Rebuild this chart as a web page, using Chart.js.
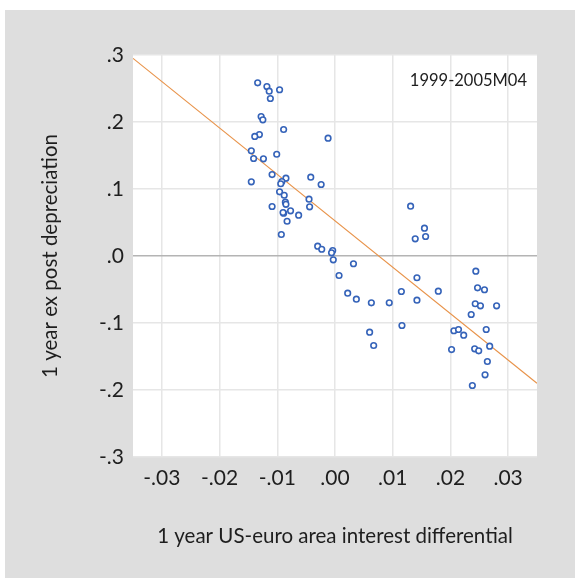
<!DOCTYPE html>
<html lang="en">
<head>
<meta charset="UTF-8">
<title>1 year ex post depreciation vs interest differential</title>
<style>
  body { margin: 0; background: #fff; }
  #wrap { position: absolute; left: 5px; top: 10px; width: 570px; height: 568px; background: #dedede; }
</style>
</head>
<body>
<div id="wrap"><canvas id="myChart"></canvas></div>
<script src="https://cdn.jsdelivr.net/npm/chart.js"></script>
<script>
// interest differential (x) and ex post depreciation (y)
const diffX = [
  -0.0134, -0.0118, -0.0114, -0.0096, -0.0112, -0.0128, -0.0125, -0.0089, -0.0131, -0.0139,
  -0.0012, -0.0145, -0.0141, -0.0124, -0.0101, -0.0109, -0.0085, -0.0042, -0.0145, -0.0092,
  -0.0094, -0.0024, -0.0096, -0.0088, -0.0109, -0.0086, -0.0085, -0.0089, -0.0077, -0.0090,
  -0.0063, -0.0083, -0.0093, -0.0045, -0.0044, -0.0030, -0.0023, -0.0004, -0.0006, -0.0003,
  0.0032, 0.0007, 0.0022, 0.0037, 0.0063, 0.0094, 0.0115, 0.0142, 0.0142, 0.0179,
  0.0116, 0.0060, 0.0067, 0.0131, 0.0155, 0.0157, 0.0139, 0.0244, 0.0247, 0.0259,
  0.0243, 0.0252, 0.0280, 0.0236, 0.0262, 0.0206, 0.0214, 0.0223, 0.0202, 0.0242,
  0.0249, 0.0268, 0.0264, 0.0260, 0.0238
];
const deprY = [
  0.2585, 0.2530, 0.2460, 0.2481, 0.2351, 0.2082, 0.2033, 0.1888, 0.1813, 0.1784,
  0.1758, 0.1570, 0.1455, 0.1451, 0.1519, 0.1216, 0.1161, 0.1176, 0.1107, 0.1112,
  0.1078, 0.1067, 0.0958, 0.0907, 0.0739, 0.0803, 0.0772, 0.0639, 0.0675, 0.0649,
  0.0609, 0.0519, 0.0321, 0.0848, 0.0734, 0.0146, 0.0101, 0.0082, 0.0048, -0.0057,
  -0.0116, -0.0291, -0.0555, -0.0645, -0.0699, -0.0699, -0.0530, -0.0325, -0.0660, -0.0525,
  -0.1037, -0.1137, -0.1336, 0.0743, 0.0415, 0.0291, 0.0257, -0.0227, -0.0475, -0.0504,
  -0.0713, -0.0743, -0.0743, -0.0873, -0.1097, -0.1116, -0.1097, -0.1182, -0.1396, -0.1385,
  -0.1415, -0.1346, -0.1575, -0.1773, -0.1933
];
// fitted line end points
const fitX = [-0.035, 0.035];
const fitY = [0.295, -0.19];

const xTickValues = [-0.03, -0.02, -0.01, 0, 0.01, 0.02, 0.03];
const xTickLabels = ['-.03', '-.02', '-.01', '.00', '.01', '.02', '.03'];
const yTickValues = [0.3, 0.2, 0.1, 0, -0.1, -0.2, -0.3];
const yTickLabels = ['.3', '.2', '.1', '.0', '-.1', '-.2', '-.3'];
const sampleLabel = '1999-2005M04';

const points = diffX.map((x, i) => ({ x: x, y: deprY[i] }));
const fitLine = fitX.map((x, i) => ({ x: x, y: fitY[i] }));

const FONT = 'Lato, "Open Sans", sans-serif';

// white plot area + sample period text
const plotBack = {
  id: 'plotBack',
  beforeDraw(chart) {
    const a = chart.chartArea, ctx = chart.ctx;
    ctx.save();
    ctx.fillStyle = '#ffffff';
    ctx.fillRect(a.left, a.top, a.right - a.left, a.bottom - a.top);
    ctx.restore();
  },
  afterDraw(chart) {
    const a = chart.chartArea, ctx = chart.ctx;
    ctx.save();
    ctx.font = '16.5px ' + FONT;
    ctx.fillStyle = '#1e1e1e';
    ctx.textAlign = 'right';
    ctx.textBaseline = 'middle';
    ctx.fillText(sampleLabel, a.right - 10, a.top + 26);
    ctx.restore();
  }
};

const ctx = document.getElementById('myChart').getContext('2d');
const myChart = new Chart(ctx, {
  type: 'scatter',
  data: {
    datasets: [{
      label: 'fit',
      type: 'line',
      data: fitLine,
      borderColor: '#e8934a',
      borderWidth: 1.2,
      pointRadius: 0,
      fill: false,
      order: 2
    }, {
      label: 'depreciation',
      data: points,
      borderColor: '#3563b9',
      backgroundColor: '#ffffff',
      borderWidth: 1.6,
      pointRadius: 2.8,
      order: 1
    }]
  },
  options: {
    responsive: true,
    maintainAspectRatio: false,
    animation: false,
    layout: { padding: { top: 45, right: 38, bottom: 0, left: 0 } },
    plugins: { legend: { display: false }, tooltip: { enabled: false } },
    scales: {
      x: {
        type: 'linear',
        min: -0.035,
        max: 0.035,
        afterBuildTicks: (s) => { s.ticks = xTickValues.map(v => ({ value: v })); },
        afterFit: (s) => { s.height = 121; },
        grid: { color: '#e6e6e6', lineWidth: 1.5, drawTicks: false },
        border: { display: false },
        ticks: {
          padding: 9,
          color: '#1e1e1e',
          font: { family: FONT, size: 21 },
          callback: (v) => xTickLabels[xTickValues.findIndex(t => Math.abs(t - v) < 1e-9)]
        },
        title: {
          display: true,
          text: '1 year US-euro area interest differential',
          color: '#1e1e1e',
          font: { family: FONT, size: 20.5 },
          padding: { top: 0, bottom: 29 }
        }
      },
      y: {
        type: 'linear',
        min: -0.3,
        max: 0.3,
        afterBuildTicks: (s) => { s.ticks = yTickValues.map(v => ({ value: v })); },
        afterFit: (s) => { s.width = 128; },
        grid: {
          color: (c) => (c.tick && c.tick.value === 0) ? '#b4b4b4' : '#e6e6e6',
          lineWidth: 1.5,
          drawTicks: false
        },
        border: { display: false },
        ticks: {
          padding: 9,
          color: '#1e1e1e',
          font: { family: FONT, size: 21 },
          callback: (v) => yTickLabels[yTickValues.findIndex(t => Math.abs(t - v) < 1e-9)]
        },
        title: {
          display: true,
          text: '1 year ex post depreciation',
          color: '#1e1e1e',
          font: { family: FONT, size: 20.5 },
          padding: { top: 33, bottom: 0 }
        }
      }
    }
  },
  plugins: [plotBack]
});
</script>
</body>
</html>
